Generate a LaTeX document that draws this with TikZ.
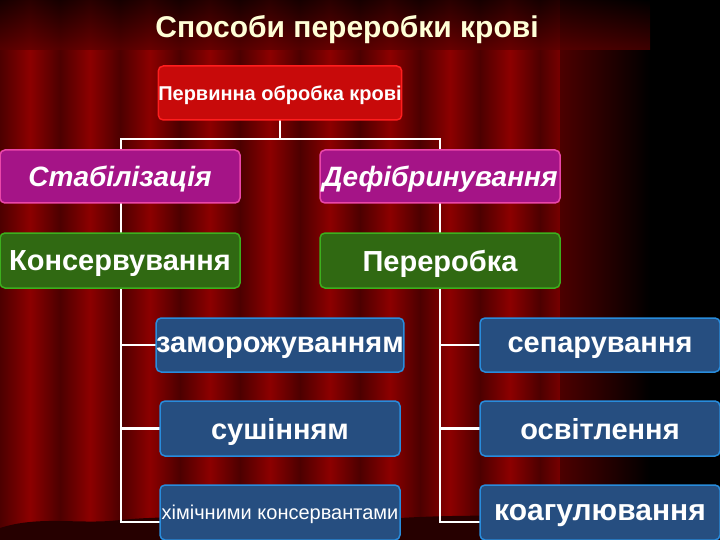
\documentclass[tikz,border=0pt]{standalone}
\usepackage{fontspec}
\setmainfont{Liberation Sans}
\begin{document}
\begin{tikzpicture}[x=1pt,y=-1pt,
  bx/.style={draw,line width=1.5pt,rounded corners=5pt,text=white,font=\bfseries\fontsize{29}{30}\selectfont,inner sep=0pt,minimum width=240pt,text depth=0pt},
  redb/.style={bx,fill={rgb,255:red,200;green,10;blue,10},draw={rgb,255:red,255;green,30;blue,30}},
  magb/.style={bx,fill={rgb,255:red,165;green,20;blue,135},draw={rgb,255:red,235;green,70;blue,170},font=\bfseries\itshape\fontsize{28}{30}\selectfont},
  grnb/.style={bx,fill={rgb,255:red,48;green,105;blue,18},draw={rgb,255:red,60;green,175;blue,30}},
  blub/.style={bx,fill={rgb,255:red,38;green,78;blue,128},draw={rgb,255:red,40;green,140;blue,220}},
  ln/.style={white,line width=2.5pt}]
\useasboundingbox (0,0) rectangle (720,540);
% background curtain
\fill[red!35!black] (0,0) rectangle (720,540);
\foreach \x in {0,60,...,560}{
  \shade[left color=red!30!black,right color=red!55!black] (\x,0) rectangle (\x+30,540);
  \shade[left color=red!55!black,right color=red!30!black] (\x+30,0) rectangle (\x+60,540);
}
\shade[left color=red!30!black,right color=black] (560,0) rectangle (650,540);
\fill[black] (650,0) rectangle (720,540);
\shade[top color=black,bottom color=red!35!black,opacity=0.7] (0,0) rectangle (650,50);
\fill[black!85!red] (0,540) -- (0,528) .. controls (40,515) and (80,525) .. (120,520) .. controls (200,512) and (300,525) .. (400,518) .. controls (500,512) and (600,520) .. (720,515) -- (720,540) -- cycle;
% title
\node[text={rgb,255:red,255;green,255;blue,215},font=\bfseries\fontsize{30}{32}\selectfont] (t) at (347,30) {Способи переробки крові};
% connectors
\coordinate (j) at (280,139);
\coordinate (lt) at (121,139);
\coordinate (rt) at (440,139);
\coordinate (lb) at (121,522);
\coordinate (rb) at (440,522);
\draw[ln] (280,120) -- (j);
\draw[ln] (121,150) -- (lt) -- (rt) -- (440,150);
\draw[ln] (121,203) -- (121,233);
\draw[ln] (440,203) -- (440,233);
\draw[ln] (121,288) -- (lb) -- (160,522);
\draw[ln] (121,345) -- (160,345);
\draw[ln] (121,428.5) -- (160,428.5);
\draw[ln] (440,288) -- (rb) -- (480,522);
\draw[ln] (440,345) -- (480,345);
\draw[ln] (440,428.5) -- (480,428.5);
% nodes
\node[redb,minimum height=54pt,font=\bfseries\fontsize{20}{22}\selectfont] (p) at (280,93) {Первинна обробка крові};
\node[magb,minimum height=53pt] (s) at (120,176.5) {Стабілізація};
\node[magb,minimum height=53pt] (d) at (440,176.5) {Дефібринування};
\node[grnb,minimum height=55pt] (k) at (120,260.5) {Консервування};
\node[grnb,minimum height=55pt] (r) at (440,260.5) {Переробка};
\node[blub,minimum height=54pt] (z) at (280,345) {заморожуванням};
\node[blub,minimum height=55pt] (su) at (280,428.5) {сушінням};
\node[blub,minimum height=55pt,font=\fontsize{20}{22}\selectfont] (h) at (280,512.5) {хімічними консервантами};
\node[blub,minimum height=54pt] (se) at (600,345) {сепарування};
\node[blub,minimum height=55pt] (o) at (600,428.5) {освітлення};
\node[blub,minimum height=55pt,font=\bfseries\fontsize{30}{32}\selectfont] (ko) at (600,512.5) {коагулювання};
\end{tikzpicture}
\end{document}
